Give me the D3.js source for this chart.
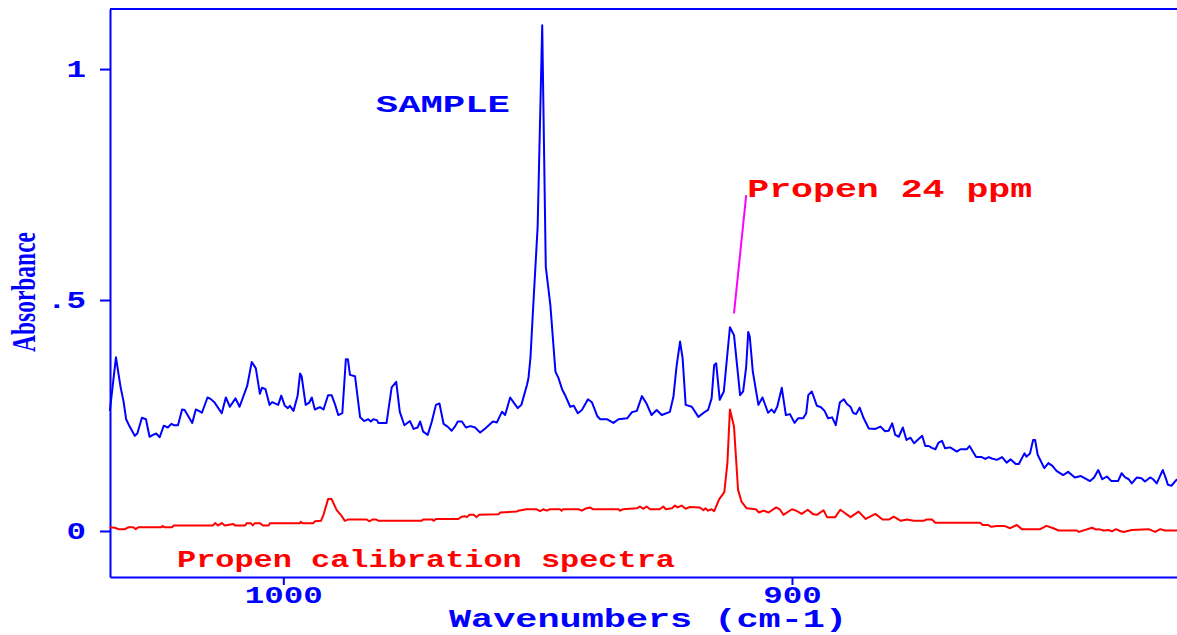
<!DOCTYPE html>
<html>
<head>
<meta charset="utf-8">
<script src="https://cdn.jsdelivr.net/npm/d3@7"></script>
<style>
  html, body { margin: 0; padding: 0; background: #ffffff; }
  svg { display: block; }
</style>
</head>
<body>
<svg id="chart" width="1177" height="635"></svg>
<script>
// Sample spectrum (absorbance vs wavenumber, cm-1)
const sampleWavenumber = [
  1034.1, 1032.9, 1032.0, 1031.4, 1030.9, 1030.2, 1029.2, 1028.7, 1027.8, 1027.0,
  1026.3, 1025.6, 1025.0, 1024.3, 1023.5, 1022.7, 1022.0, 1021.5, 1020.7, 1019.9,
  1019.4, 1017.9, 1017.2, 1016.6, 1016.0, 1014.9, 1014.3, 1013.5, 1012.1, 1011.3,
  1010.5, 1009.4, 1008.6, 1007.1, 1006.2, 1005.4, 1004.6, 1004.2, 1003.5, 1002.7,
  1002.2, 1001.0, 1000.4, 999.7, 999.1, 998.7, 998.0, 997.2, 996.7, 996.4,
  995.6, 994.9, 994.4, 993.8, 992.8, 992.1, 991.2, 990.5, 989.8, 989.2,
  988.4, 987.7, 987.3, 986.9, 985.9, 984.9, 984.1, 983.3, 982.8, 982.3,
  981.6, 981.3, 979.7, 978.7, 977.8, 977.1, 976.2, 975.1, 974.4, 973.6,
  973.1, 972.5, 971.6, 970.8, 970.0, 969.3, 968.5, 967.7, 966.9, 966.2,
  965.7, 964.9, 964.1, 963.2, 962.3, 961.3, 960.3, 958.8, 958.0, 957.5,
  957.0, 956.4, 955.4, 954.7, 953.9, 953.2, 952.1, 951.8, 951.4, 951.0,
  950.0, 949.1, 948.4, 947.5, 946.5, 945.9, 945.2, 944.6, 943.6, 942.9,
  942.1, 941.3, 940.1, 939.3, 938.3, 937.7, 936.4, 935.1, 934.1, 932.4,
  931.5, 930.5, 929.5, 928.6, 927.6, 926.6, 925.6, 924.0, 923.3, 922.7,
  922.0, 921.5, 920.9, 919.7, 918.4, 917.1, 916.5, 915.8, 915.3, 914.9,
  914.2, 913.4, 912.2, 911.4, 910.2, 909.6, 909.0, 908.6, 908.3, 907.7,
  906.6, 905.8, 904.7, 904.0, 903.5, 902.9, 902.0, 901.2, 900.4, 899.5,
  898.8, 897.8, 897.2, 896.8, 896.1, 895.1, 894.3, 893.6, 892.9, 892.1,
  891.4, 890.6, 889.8, 889.2, 888.5, 888.0, 887.4, 886.7, 885.9, 884.9,
  883.6, 882.6, 881.7, 881.0, 880.3, 879.7, 879.0, 878.2, 877.5, 876.7,
  876.0, 875.1, 874.4, 873.8, 873.1, 872.5, 871.8, 871.2, 870.5, 869.9,
  868.9, 867.6, 866.9, 865.6, 865.1, 863.8, 862.7, 862.0, 861.3, 860.7,
  859.7, 858.7, 857.8, 857.0, 856.0, 855.4, 854.3, 853.9, 853.2, 852.6,
  852.2, 851.7, 850.4, 849.6, 848.8, 848.0, 846.7, 845.7, 844.4, 843.2,
  841.4, 840.6, 839.8, 839.0, 838.1, 837.2, 835.9, 835.2, 834.5, 833.8,
  833.2, 832.2, 831.3, 830.6, 829.6, 829.0, 828.3, 827.1, 826.5, 826.1,
  825.4, 824.3
];
const sampleAbsorbance = [
  0.260, 0.376, 0.312, 0.280, 0.242, 0.226, 0.206, 0.211, 0.245, 0.242,
  0.204, 0.208, 0.211, 0.203, 0.228, 0.224, 0.232, 0.229, 0.229, 0.263,
  0.262, 0.234, 0.263, 0.260, 0.256, 0.289, 0.286, 0.278, 0.255, 0.289,
  0.269, 0.287, 0.269, 0.314, 0.366, 0.352, 0.297, 0.310, 0.307, 0.273,
  0.279, 0.273, 0.293, 0.271, 0.266, 0.271, 0.260, 0.292, 0.341, 0.335,
  0.273, 0.278, 0.289, 0.263, 0.268, 0.263, 0.294, 0.294, 0.273, 0.251,
  0.255, 0.372, 0.372, 0.338, 0.335, 0.246, 0.238, 0.242, 0.237, 0.242,
  0.240, 0.234, 0.234, 0.311, 0.323, 0.258, 0.229, 0.238, 0.221, 0.224,
  0.237, 0.215, 0.208, 0.237, 0.273, 0.276, 0.232, 0.226, 0.217, 0.227,
  0.237, 0.237, 0.224, 0.227, 0.224, 0.213, 0.222, 0.237, 0.235, 0.247,
  0.258, 0.251, 0.289, 0.278, 0.266, 0.273, 0.316, 0.331, 0.377, 0.460,
  0.659, 1.095, 0.572, 0.489, 0.345, 0.331, 0.307, 0.294, 0.269, 0.271,
  0.255, 0.262, 0.285, 0.278, 0.249, 0.242, 0.242, 0.234, 0.242, 0.244,
  0.257, 0.260, 0.292, 0.276, 0.251, 0.262, 0.251, 0.258, 0.291, 0.356,
  0.410, 0.374, 0.273, 0.269, 0.247, 0.258, 0.262, 0.287, 0.359, 0.363,
  0.284, 0.302, 0.441, 0.424, 0.294, 0.302, 0.356, 0.431, 0.421, 0.345,
  0.273, 0.289, 0.256, 0.263, 0.256, 0.269, 0.310, 0.251, 0.253, 0.234,
  0.244, 0.244, 0.255, 0.294, 0.302, 0.271, 0.268, 0.260, 0.244, 0.246,
  0.229, 0.278, 0.285, 0.275, 0.269, 0.256, 0.253, 0.267, 0.244, 0.222,
  0.221, 0.226, 0.216, 0.217, 0.233, 0.208, 0.204, 0.224, 0.197, 0.202,
  0.190, 0.199, 0.206, 0.184, 0.184, 0.180, 0.177, 0.191, 0.195, 0.179,
  0.181, 0.172, 0.177, 0.177, 0.184, 0.160, 0.160, 0.156, 0.160, 0.157,
  0.154, 0.160, 0.148, 0.155, 0.145, 0.145, 0.168, 0.161, 0.168, 0.197,
  0.197, 0.165, 0.136, 0.147, 0.141, 0.130, 0.121, 0.128, 0.116, 0.119,
  0.108, 0.116, 0.132, 0.112, 0.118, 0.108, 0.108, 0.125, 0.116, 0.112,
  0.103, 0.116, 0.114, 0.107, 0.116, 0.112, 0.103, 0.132, 0.114, 0.100,
  0.098, 0.112
];

// Propene calibration spectrum
const calibWavenumber = [
  1034.1, 1033.1, 1032.4, 1031.1, 1030.5, 1029.5, 1029.0, 1028.5, 1024.0, 1023.7,
  1023.4, 1021.9, 1021.5, 1013.8, 1013.4, 1012.8, 1012.1, 1011.5, 1009.8, 1009.5,
  1007.5, 1007.2, 1006.4, 1006.0, 1005.6, 1004.6, 1004.0, 1002.9, 1002.6, 996.7,
  996.6, 996.2, 994.1, 993.8, 992.6, 992.1, 991.2, 990.5, 989.5, 988.5,
  987.9, 987.2, 983.6, 983.1, 982.4, 981.8, 981.3, 972.8, 972.5, 970.8,
  970.4, 970.0, 965.6, 964.9, 964.3, 963.9, 963.4, 962.6, 962.0, 961.5,
  957.7, 957.4, 954.1, 953.8, 952.2, 950.2, 949.5, 948.9, 948.2, 947.6,
  945.6, 945.3, 945.0, 942.0, 941.3, 940.7, 939.7, 939.1, 934.1, 933.8,
  933.2, 930.5, 929.9, 929.2, 928.6, 927.9, 926.0, 925.3, 924.8, 923.6,
  923.0, 922.5, 921.7, 920.9, 920.1, 918.1, 917.4, 917.0, 916.5, 915.8,
  915.3, 914.3, 913.3, 912.7, 912.2, 911.4, 910.6, 909.9, 908.9, 907.1,
  906.5, 905.6, 904.6, 903.1, 902.4, 901.7, 900.0, 899.2, 898.1, 896.9,
  895.8, 895.1, 893.8, 893.1, 891.5, 890.5, 889.6, 888.5, 886.9, 885.5,
  883.6, 882.2, 880.9, 880.0, 878.6, 877.4, 876.1, 874.1, 873.5, 872.5,
  871.8, 863.0, 862.5, 861.5, 860.8, 859.7, 858.3, 857.1, 855.8, 854.8,
  852.5, 851.2, 850.0, 848.6, 847.6, 844.0, 843.6, 841.0, 840.2, 839.7,
  838.7, 837.7, 837.1, 836.3, 835.5, 834.8, 833.2, 829.9, 828.6, 827.6,
  826.7, 824.3
];
const calibAbsorbance = [
  0.008, 0.007, 0.004, 0.004, 0.008, 0.008, 0.004, 0.008, 0.008, 0.011,
  0.008, 0.008, 0.012, 0.012, 0.017, 0.012, 0.017, 0.012, 0.015, 0.012,
  0.012, 0.017, 0.017, 0.012, 0.017, 0.017, 0.012, 0.012, 0.017, 0.017,
  0.020, 0.017, 0.017, 0.021, 0.022, 0.035, 0.069, 0.069, 0.045, 0.032,
  0.022, 0.025, 0.025, 0.021, 0.025, 0.025, 0.022, 0.022, 0.025, 0.025,
  0.022, 0.026, 0.026, 0.031, 0.032, 0.030, 0.035, 0.035, 0.030, 0.035,
  0.036, 0.040, 0.042, 0.044, 0.047, 0.047, 0.043, 0.047, 0.044, 0.047,
  0.047, 0.044, 0.047, 0.047, 0.044, 0.048, 0.051, 0.047, 0.047, 0.044,
  0.047, 0.049, 0.053, 0.048, 0.053, 0.047, 0.047, 0.053, 0.047, 0.049,
  0.055, 0.051, 0.055, 0.048, 0.052, 0.051, 0.045, 0.049, 0.044, 0.047,
  0.043, 0.069, 0.084, 0.147, 0.263, 0.226, 0.089, 0.063, 0.049, 0.047,
  0.040, 0.044, 0.040, 0.051, 0.047, 0.035, 0.047, 0.044, 0.037, 0.046,
  0.036, 0.035, 0.045, 0.030, 0.030, 0.046, 0.039, 0.030, 0.042, 0.026,
  0.037, 0.025, 0.025, 0.031, 0.022, 0.025, 0.022, 0.022, 0.025, 0.025,
  0.018, 0.018, 0.013, 0.013, 0.009, 0.011, 0.011, 0.006, 0.013, 0.004,
  0.004, 0.004, 0.011, 0.006, 0.001, 0.001, -0.002, 0.007, 0.003, 0.004,
  0.001, 0.002, -0.001, 0.004, 0.000, -0.002, 0.002, 0.004, -0.002, 0.004,
  0.001, 0.001
];

// Axis ticks and labels
const xTickValues = [1000, 900];
const yTickValues = [0, 0.5, 1];
const yTickLabels = ["0", ".5", "1"];
const xTitle = "Wavenumbers (cm-1)";
const yTitle = "Absorbance";
const sampleLabel = "SAMPLE";
const calibLabel = "Propen calibration spectra";
const peakLabel = "Propen 24 ppm";
// Pointer from the propene band to its label (wavenumber, absorbance)
const pointerWavenumber = [911.4, 909.0];
const pointerAbsorbance = [0.471, 0.727];

const BLUE = "#0000ff", RED = "#ff0000", MAGENTA = "#ff00ff";
const MONO = "'Liberation Mono', 'Courier New', monospace";
const SERIF = "'Liberation Serif', 'Times New Roman', serif";

const plot = { left: 110, right: 1177, top: 9, bottom: 577 };

const x = d3.scaleLinear().domain([1034.07, 824.31]).range([plot.left, plot.right]);
const y = d3.scaleLinear().domain([-0.0996, 1.13]).range([plot.bottom, plot.top]);

const svg = d3.select("#chart");

// top edge of the frame
svg.append("line")
  .attr("x1", plot.left).attr("x2", plot.right)
  .attr("y1", plot.top).attr("y2", plot.top)
  .attr("stroke", BLUE).attr("stroke-width", 2);

// stretch monospace text horizontally to a given width
function stretch(sel, width) {
  sel.attr("textLength", width).attr("lengthAdjust", "spacingAndGlyphs");
}

// x axis
const gx = svg.append("g")
  .attr("transform", `translate(0,${plot.bottom})`)
  .attr("color", BLUE)
  .call(d3.axisBottom(x).tickValues(xTickValues).tickFormat(d3.format("d"))
    .tickSize(8).tickSizeOuter(0));
gx.select(".domain").attr("stroke-width", 2);
gx.selectAll(".tick line").attr("stroke-width", 2);
gx.selectAll(".tick text")
  .attr("y", 26).attr("dy", 0)
  .attr("font-family", MONO).attr("font-size", 24).attr("font-weight", "bold")
  .each(function (d) {
    stretch(d3.select(this), String(d).length * 19.5);
  });

// y axis
const gy = svg.append("g")
  .attr("transform", `translate(${plot.left},0)`)
  .attr("color", BLUE)
  .call(d3.axisLeft(y).tickValues(yTickValues).tickFormat((d, i) => yTickLabels[i])
    .tickSize(10).tickPadding(14).tickSizeOuter(0));
gy.select(".domain").attr("stroke-width", 2);
gy.selectAll(".tick line").attr("stroke-width", 2);
gy.selectAll(".tick text")
  .attr("font-family", MONO).attr("font-size", 24).attr("font-weight", "bold")
  .attr("dy", "0.32em")
  .each(function (d, i) {
    stretch(d3.select(this), yTickLabels[i].length * 19.5);
  });

// spectra
const line = d3.line().x(d => x(d[0])).y(d => y(d[1]));

svg.append("path")
  .datum(d3.zip(sampleWavenumber, sampleAbsorbance))
  .attr("d", line)
  .attr("fill", "none").attr("stroke", BLUE).attr("stroke-width", 2)
  .attr("stroke-linejoin", "round");

svg.append("path")
  .datum(d3.zip(calibWavenumber, calibAbsorbance))
  .attr("d", line)
  .attr("fill", "none").attr("stroke", RED).attr("stroke-width", 2)
  .attr("stroke-linejoin", "round");

// pointer to the propene band
svg.append("path")
  .datum(d3.zip(pointerWavenumber, pointerAbsorbance))
  .attr("d", line)
  .attr("fill", "none").attr("stroke", MAGENTA).attr("stroke-width", 2);

// annotations
function label(text, wn, ab, color, width, size) {
  const t = svg.append("text")
    .attr("x", x(wn)).attr("y", y(ab))
    .attr("font-family", MONO).attr("font-size", size).attr("font-weight", "bold")
    .attr("fill", color)
    .text(text);
  stretch(t, width);
  return t;
}
label(sampleLabel, 981.8, 0.906, BLUE, 134, 24);
label(peakLabel, 908.8, 0.723, RED, 285, 25);
label(calibLabel, 1020.9, -0.077, RED, 498, 24);

// axis titles
const xt = svg.append("text")
  .attr("x", 449).attr("y", 627)
  .attr("font-family", MONO).attr("font-size", 25).attr("font-weight", "bold")
  .attr("fill", BLUE)
  .text(xTitle);
stretch(xt, 398);

const yt = svg.append("text")
  .attr("transform", "translate(35,292) rotate(-90)")
  .attr("text-anchor", "middle")
  .attr("font-family", SERIF).attr("font-size", 34).attr("font-weight", "bold")
  .attr("fill", BLUE)
  .text(yTitle);
stretch(yt, 120);
</script>
</body>
</html>
